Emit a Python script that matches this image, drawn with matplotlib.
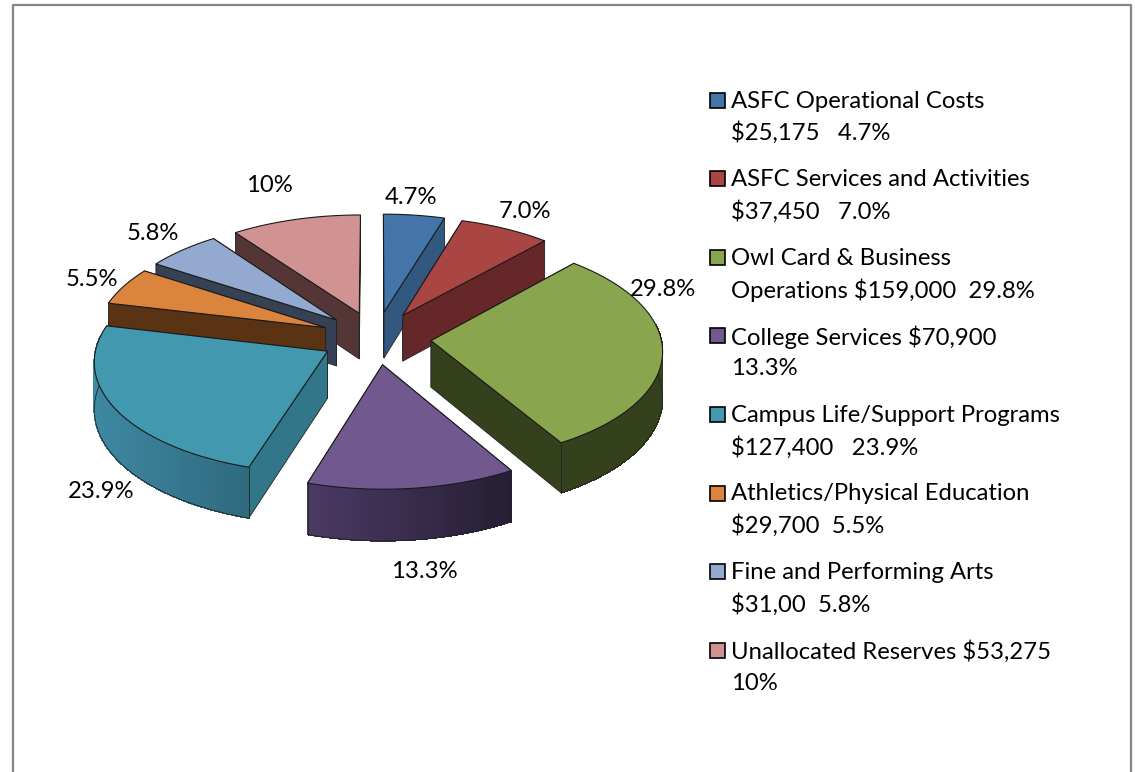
import numpy as np
import matplotlib
matplotlib.use('Agg')
import matplotlib.pyplot as plt
from matplotlib.patches import Polygon, Rectangle

plt.rcParams['font.family'] = ['Lato', 'DejaVu Sans']

# slice values, clockwise from 12 o'clock
pct = [4.7, 7.0, 29.8, 13.3, 23.9, 5.5, 5.8, 10.0]
pie_labels = ['4.7%', '7.0%', '29.8%', '13.3%', '23.9%', '5.5%', '5.8%', '10%']
legend_lines = [
    ['ASFC Operational Costs', '$25,175   4.7%'],
    ['ASFC Services and Activities', '$37,450   7.0%'],
    ['Owl Card & Business', 'Operations $159,000  29.8%'],
    ['College Services $70,900', '13.3%'],
    ['Campus Life/Support Programs', '$127,400   23.9%'],
    ['Athletics/Physical Education', '$29,700  5.5%'],
    ['Fine and Performing Arts', '$31,00  5.8%'],
    ['Unallocated Reserves $53,275', '10%'],
]

# colours
top_col = ['#4475A8', '#A94543', '#89A54E', '#71588F', '#4198AF', '#DB843D', '#93A9CF', '#D19392']
face_col = ['#335880', '#652727', '#35411C', '#4B3A64', '#32768A', '#5A3214', '#364254', '#543636']
wall_left = ['#335880', '#652727', '#35411C', '#4B3A64', '#3F88A2', '#5A3214', '#364254', '#543636']
wall_right = ['#335880', '#652727', '#35411C', '#261E34', '#2F6A7E', '#5A3214', '#364254', '#543636']

# label centres in pixels
label_xy = [(411, 197), (525, 212), (663, 289), (424, 572), (101, 492), (92, 279), (153, 233), (269, 186)]

# pie projection settings
cx, cy = 376, 338
rx, ry = 230, 110
k = 0.08       # perspective
depth = 46.5
explode = 0.24
draw_order = [0, 7, 1, 6, 5, 2, 4, 3]


def project(u, v, drop=0.0):
    f = 1 / (1 + k * v)
    return cx + rx * u * f, cy - ry * v * f + drop * f


def mix(c1, c2, t):
    a = np.array(matplotlib.colors.to_rgb(c1))
    b = np.array(matplotlib.colors.to_rgb(c2))
    return a + (b - a) * t


fig = plt.figure(figsize=(11.35, 7.72), dpi=100)
ax = fig.add_axes([0, 0, 1, 1])
ax.set_xlim(0, 1135)
ax.set_ylim(772, 0)
ax.axis('off')

# chart frame
ax.plot([12.5, 12.5, 1131, 1131], [772, 4.5, 4.5, 772], color='#868686', lw=1.6, zorder=1)

edges = np.cumsum([0] + pct) / 100 * 2 * np.pi
for z, i in enumerate(draw_order):
    z = z + 2
    a0, a1 = edges[i], edges[i + 1]
    mid = (a0 + a1) / 2
    ou, ov = explode * np.sin(mid), explode * np.cos(mid)
    angs = np.linspace(a0, a1, 80)
    us = ou + np.sin(angs)
    vs = ov + np.cos(angs)
    p_top = [project(u, v) for u, v in zip(us, vs)]
    p_bot = [project(u, v, depth) for u, v in zip(us, vs)]
    apex_top = project(ou, ov)
    apex_bot = project(ou, ov, depth)

    # radial faces, the one further back goes first
    ends = [0, -1] if np.cos(a0) > np.cos(a1) else [-1, 0]
    for e in ends:
        ax.add_patch(Polygon([apex_top, p_top[e], p_bot[e], apex_bot],
                             facecolor=face_col[i], edgecolor='#222222', lw=0.6, zorder=z))

    # outer wall, only the part that faces us (a bit past the side, the top hides the rest)
    front = np.where(np.cos(angs) <= 0.15)[0]
    if len(front) > 1:
        xs = [p_top[j][0] for j in front]
        for j in front[:-1]:
            t = (p_top[j][0] - min(xs)) / (max(xs) - min(xs))
            c = mix(wall_left[i], wall_right[i], t)
            ax.add_patch(Polygon([p_top[j], p_top[j + 1], p_bot[j + 1], p_bot[j]],
                                 facecolor=c, edgecolor=c, lw=0.5, antialiased=False, zorder=z + 0.1))
        ax.plot([p_bot[j][0] for j in front], [p_bot[j][1] for j in front],
                color='#222222', lw=0.6, zorder=z + 0.2)
        for j in [front[0], front[-1]]:
            if j in (0, len(angs) - 1):
                ax.plot([p_top[j][0], p_bot[j][0]], [p_top[j][1], p_bot[j][1]],
                        color='#222222', lw=0.6, zorder=z + 0.2)

    # top
    ax.add_patch(Polygon([apex_top] + p_top, closed=True, facecolor=top_col[i],
                         edgecolor='#1a1a1a', lw=0.8, zorder=z + 0.3))

for (x, y), s in zip(label_xy, pie_labels):
    ax.text(x, y, s, fontsize=17.2, color='black', ha='center', va='center', zorder=20)

# legend
leg_x = 731
for n, lines in enumerate(legend_lines):
    y0 = 100 + n * 78.6
    ax.add_patch(Rectangle((709.5, y0 - 7.5), 15, 15, facecolor=top_col[n],
                           edgecolor='black', lw=1.2, zorder=20))
    ax.text(leg_x, y0 + 1, lines[0], fontsize=17.2, ha='left', va='center', color='black', zorder=20)
    ax.text(leg_x, y0 + 33, lines[1], fontsize=17.2, ha='left', va='center', color='black', zorder=20)

fig.savefig('out.png', dpi=100, facecolor='white')
